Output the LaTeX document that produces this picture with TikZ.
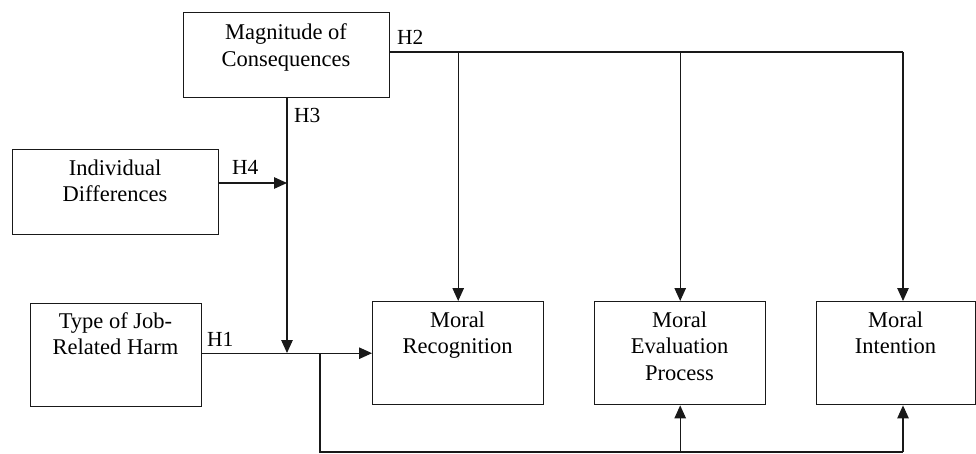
\documentclass[tikz,border=0pt]{standalone}
\usepackage{fontspec}
\setmainfont{Liberation Serif}
\usetikzlibrary{arrows.meta}
\begin{document}
\begin{tikzpicture}[x=1pt,y=-1pt,
  box/.style={draw=black!90, line width=1.4pt, rectangle, inner sep=0pt, anchor=north west},
  txt/.style={anchor=north, inner sep=0pt, align=center, font=\fontsize{22.5}{26.5}\selectfont},
  hlab/.style={anchor=base west, inner sep=0pt, font=\fontsize{21.5}{26}\selectfont},
  conn/.style={line width=1.1pt, draw=black!90},
  arr/.style={conn, -{Triangle[length=13pt,width=11.5pt]}}]
\useasboundingbox (0,0) rectangle (976,454);
% boxes
\node[box, minimum width=206pt, minimum height=85pt] (mag) at (183,12) {};
\node[box, minimum width=206pt, minimum height=85pt] (ind) at (12,149) {};
\node[box, minimum width=171pt, minimum height=103pt] (type) at (30,303) {};
\node[box, minimum width=171pt, minimum height=103pt] (rec) at (372,301) {};
\node[box, minimum width=171pt, minimum height=103pt] (eval) at (594,301) {};
\node[box, minimum width=159pt, minimum height=103pt] (intent) at (816,301) {};
% texts
\node[txt] (tmag) at (286,23.5) {Magnitude of\\Consequences};
\node[txt] (tind) at (115,159.5) {Individual\\Differences};
\node[txt] (ttype) at (115.5,312) {Type of Job-\\Related Harm};
\node[txt] (trec) at (457.5,311.5) {Moral\\Recognition};
\node[txt] (teval) at (679.5,311.5) {Moral\\Evaluation\\Process};
\node[txt] (tint) at (895.5,311.5) {Moral\\Intention};
% hypothesis labels
\node[hlab] (h2) at (397,45) {H2};
\node[hlab] (h3) at (294,123) {H3};
\node[hlab] (h4) at (232,175) {H4};
\node[hlab] (h1) at (207,346) {H1};
% junction coordinates
\coordinate (h2s) at (389,52);
\coordinate (h2e) at (903,52);
\coordinate (mod) at (287,353);
\coordinate (h4t) at (287,183);
\coordinate (br) at (320,353);
\coordinate (bl) at (320,452);
\coordinate (brr) at (903,452);
% H2
\draw[conn] (h2s) -- (h2e);
\draw[arr] (h2s -| rec.north) -- (rec.north);
\draw[arr] (h2s -| eval.north) -- (eval.north);
\draw[arr] (h2e) -- (h2e |- intent.north);
% H3
\draw[arr] (mag.south -| mod) -- (mod);
% H4
\draw[arr] (ind.east |- h4t) -- (h4t);
% H1
\draw[arr] (type.east |- rec.west) -- (rec.west);
% lower branch
\draw[conn] (br) -- (bl) -- (brr);
\draw[arr] (bl -| eval.south) -- (eval.south);
\draw[arr] (brr) -- (brr |- intent.south);
\end{tikzpicture}
\end{document}
